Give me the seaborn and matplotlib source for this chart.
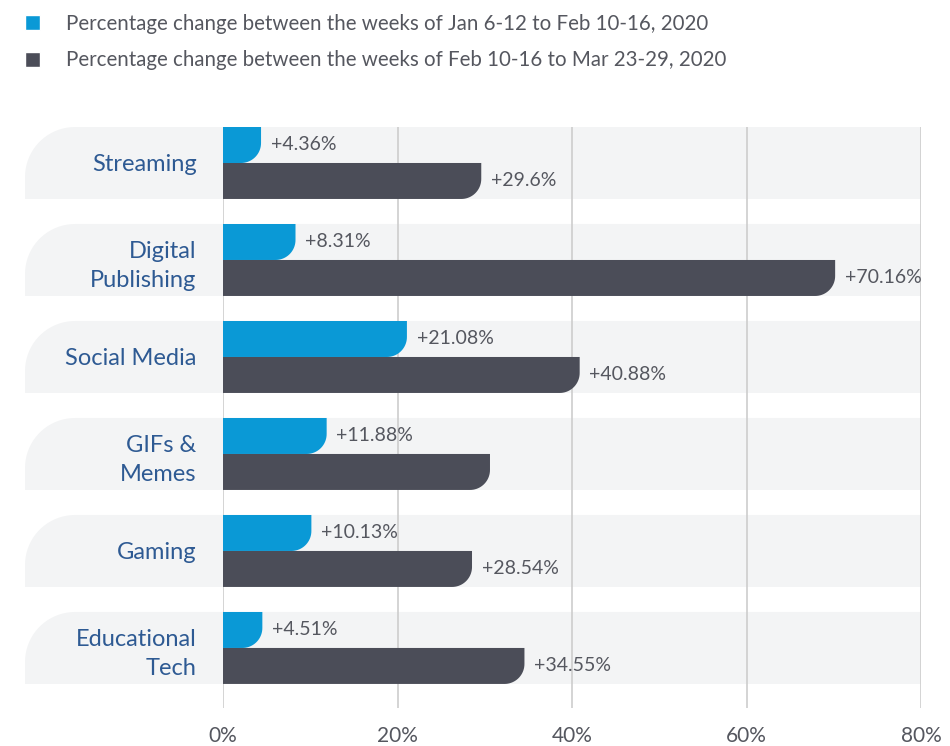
import numpy as np
import pandas as pd
import matplotlib
matplotlib.use("Agg")
import matplotlib.pyplot as plt
from matplotlib.path import Path
from matplotlib.patches import PathPatch
import seaborn as sns

# chart data
categories = ["Streaming", "Digital\nPublishing", "Social Media", "GIFs &\nMemes", "Gaming", "Educational\nTech"]
period_names = [
    "Percentage change between the weeks of Jan 6-12 to Feb 10-16, 2020",
    "Percentage change between the weeks of Feb 10-16 to Mar 23-29, 2020",
]
early_change = [4.36, 8.31, 21.08, 11.88, 10.13, 4.51]
late_change = [29.6, 70.16, 40.88, 30.6, 28.54, 34.55]
early_labels = ["+4.36%", "+8.31%", "+21.08%", "+11.88%", "+10.13%", "+4.51%"]
late_labels = ["+29.6%", "+70.16%", "+40.88%", "", "+28.54%", "+34.55%"]
x_ticks = [0, 20, 40, 60, 80]

colors = {period_names[0]: "#0a99d6", period_names[1]: "#4b4d58"}
text_grey = "#55575f"
cat_blue = "#2e5a93"
band_color = "#f3f4f5"

df = pd.DataFrame({
    "category": categories * 2,
    "period": [period_names[0]] * 6 + [period_names[1]] * 6,
    "change": early_change + late_change,
})

sns.set_theme(style="white")
plt.rcParams["font.family"] = ["Lato", "DejaVu Sans"]

fig = plt.figure(figsize=(9.5, 7.46), dpi=100)
ax = fig.add_axes([223 / 950, 38 / 746, 698 / 950, 581 / 746])

sns.barplot(data=df, y="category", x="change", hue="period", hue_order=period_names,
            palette=colors, orient="h", width=0.742, saturation=1, ax=ax, zorder=2)

ax.set_xlim(0, 80)
ax.set_ylim(5.619, -0.371)
ax.set_xlabel("")
ax.set_ylabel("")
for s in ax.spines.values():
    s.set_visible(False)

# value labels
for cont, labs in zip(ax.containers, [early_labels, late_labels]):
    ax.bar_label(cont, labels=labs, padding=7, fontsize=14, color=text_grey)

# units per pixel
px_x = 80 / 698
px_y = 5.99 / 581

# rounded bottom-right corner on each bar
t = np.linspace(0, np.pi / 2, 20)
for cont in ax.containers:
    for p in list(cont.patches):
        x, y, w, h = p.get_x(), p.get_y(), p.get_width(), p.get_height()
        fc = p.get_facecolor()
        p.remove()
        rx = min(20 * px_x, w)
        ry = 20 * px_y
        cx, cy = x + w - rx, y + h - ry
        pts = [(x, y), (x + w, y)]
        pts += list(zip(cx + rx * np.cos(t), cy + ry * np.sin(t)))
        pts += [(x, y + h), (x, y)]
        ax.add_patch(PathPatch(Path(pts), facecolor=fc, edgecolor="none", zorder=2))

# background bands with rounded top-left corner
x0 = -198 * px_x
x1 = 80
rx, ry = 50 * px_x, 50 * px_y
for i in range(len(categories)):
    y0, y1 = i - 0.371, i + 0.371
    cx, cy = x0 + rx, y0 + ry
    pts = [(x1, y0), (cx, y0)]
    pts += list(zip(cx - rx * np.sin(t), cy - ry * np.cos(t)))
    pts += [(x0, y1), (x1, y1), (x1, y0)]
    ax.add_patch(PathPatch(Path(pts), facecolor=band_color, edgecolor="none",
                           zorder=0.5, clip_on=False))

# vertical grid lines
for v in x_ticks:
    ax.axvline(v, color="#cdcdcd", lw=1.2, zorder=1)

ax.set_xticks(x_ticks)
ax.set_xticklabels([f"{v}%" for v in x_ticks])
ax.tick_params(axis="x", length=0, pad=13, labelsize=15, labelcolor=text_grey)
ax.tick_params(axis="y", length=0, pad=19, labelsize=17, labelcolor=cat_blue)
for lab in ax.get_yticklabels():
    lab.set_linespacing(1.45)

# legend
handles, labels = ax.get_legend_handles_labels()
ax.legend(handles, labels, loc="upper left", bbox_to_anchor=(25 / 950, 1 - 14 / 746),
          bbox_transform=fig.transFigure, frameon=False, fontsize=14.8,
          handlelength=0.75, handleheight=0.75, handletextpad=1.25,
          labelspacing=0.8, borderpad=0, borderaxespad=0, labelcolor=text_grey)

fig.savefig("out.png", dpi=100)
